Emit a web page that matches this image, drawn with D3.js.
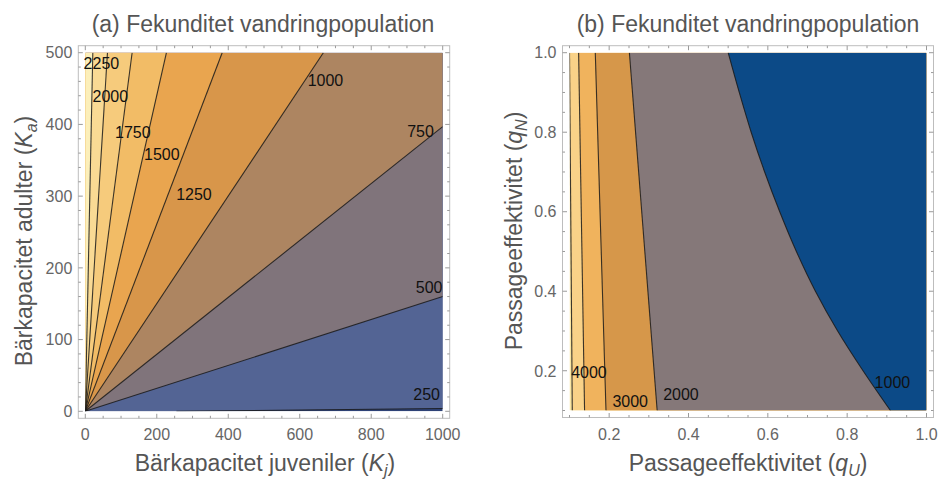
<!DOCTYPE html>
<html>
<head>
<meta charset="utf-8">
<script src="https://cdn.jsdelivr.net/npm/d3@7"></script>
<style>
  body { margin: 0; background: #fff; }
  text { font-family: "Liberation Sans", Arial, sans-serif; }
</style>
</head>
<body>
<svg id="chart" width="938" height="479"></svg>
<script>
// ---------- panel (a): Kj vs Ka ----------
const kjTicks = [0, 200, 400, 600, 800, 1000];
const kaTicks = [0, 100, 200, 300, 400, 500];
const levelsA = [250, 500, 750, 1000, 1250, 1500, 1750, 2000, 2250];
// contour lines, [Kj, Ka] points
const linesA = [
  [[255, 0], [1000, 4]],
  [[0, 0], [1000, 160]],
  [[0, 0], [1000, 397]],
  [[0, 0], [666, 500]],
  [[0, 0], [383, 500]],
  [[0, 0], [227, 500]],
  [[0, 0], [131, 500]],
  [[0, 0], [62, 500]],
  [[0, 0], [21, 500]]
];
// first colour is below the lowest contour
const fillsA = ['#2e4276', '#536494', '#80747b', '#ad8561', '#d8964a',
  '#e9a54f', '#f2bc66', '#f6cb7c', '#f9da94', '#fcefba'];
const labelsA = [[955, 24], [962, 173], [938, 391], [672, 461], [304, 302],
  [214, 358], [133, 389], [70, 439], [45, 486]];

// ---------- panel (b): qU vs qN ----------
const quTicks = [0.2, 0.4, 0.6, 0.8, 1.0];
const qnTicks = [0.2, 0.4, 0.6, 0.8, 1.0];
const levelsB = [5000, 4000, 3000, 2000, 1000];
// contour lines, [qU, qN] points from top to bottom
const linesB = [
  [[0.100, 1.0], [0.107, 0.1]],
  [[0.123, 1.0], [0.138, 0.1]],
  [[0.165, 1.0], [0.192, 0.1]],
  [[0.251, 1.0], [0.321, 0.1]],
  [[0.500, 1.0], [0.528, 0.9], [0.558, 0.8], [0.592, 0.7], [0.630, 0.6],
   [0.672, 0.5], [0.720, 0.4], [0.776, 0.3], [0.840, 0.2], [0.909, 0.1]]
];
const fillsB = ['#fae6a2', '#f9d288', '#f0b35d', '#d6974a', '#857879', '#0c4a87'];
const labelsB = [null, [0.149, 0.196], [0.253, 0.124], [0.381, 0.142], [0.914, 0.171]];

const svg = d3.select('#chart');

function drawPanel(p) {
  const x = d3.scaleLinear().domain(p.xDomain).range([p.left, p.right]);
  const y = d3.scaleLinear().domain(p.yDomain).range([p.bottom, p.top]);
  const g = svg.append('g');

  g.append('clipPath').attr('id', 'clip-' + p.id)
    .append('rect')
    .attr('x', p.left).attr('y', p.top)
    .attr('width', p.right - p.left).attr('height', p.bottom - p.top);

  const plot = g.append('g').attr('clip-path', `url(#clip-${p.id})`);

  plot.append('rect')
    .attr('x', p.left).attr('y', p.top)
    .attr('width', p.right - p.left).attr('height', p.bottom - p.top)
    .attr('fill', p.fills[0]);

  const line = d3.line()
    .x(d => x(d[0]))
    .y(d => y(d[1]))
    .curve(d3.curveCatmullRom);

  // painter's order: each region covers everything on its side of the contour
  p.lines.forEach((pts, i) => {
    const extra = p.closeRegion(pts);
    const d = line(pts) + extra.map(c => `L${x(c[0])},${y(c[1])}`).join('') + 'Z';
    plot.append('path').attr('d', d).attr('fill', p.fills[i + 1]);
  });

  p.lines.forEach(pts => {
    plot.append('path')
      .attr('d', line(pts))
      .attr('fill', 'none')
      .attr('stroke', '#1a1a1a')
      .attr('stroke-opacity', 0.85)
      .attr('stroke-width', 1.1);
  });

  // contour labels
  p.labels.forEach((pos, i) => {
    if (!pos) return;
    g.append('text')
      .attr('x', x(pos[0]))
      .attr('y', y(pos[1]))
      .attr('dy', '0.36em')
      .attr('text-anchor', 'middle')
      .attr('font-size', 16)
      .attr('fill', '#111')
      .text(p.levels[i]);
  });

  // frame
  const pad = 7;
  const fl = p.left - pad, fr = p.right + pad, ft = p.top - pad, fb = p.bottom + pad;
  g.append('rect')
    .attr('x', fl).attr('y', ft)
    .attr('width', fr - fl).attr('height', fb - ft)
    .attr('fill', 'none')
    .attr('stroke', '#bdbdbd')
    .attr('stroke-width', 1);

  const tickColor = '#9a9a9a';
  const xt = g.append('g');
  p.xMinor.forEach(v => {
    const len = p.xTicks.some(t => Math.abs(t - v) < 1e-9) ? 4.5 : 2.5;
    xt.append('line').attr('x1', x(v)).attr('x2', x(v)).attr('y1', fb).attr('y2', fb - len)
      .attr('stroke', tickColor);
    xt.append('line').attr('x1', x(v)).attr('x2', x(v)).attr('y1', ft).attr('y2', ft + len)
      .attr('stroke', tickColor);
  });
  p.yMinor.forEach(v => {
    const len = p.yTicks.some(t => Math.abs(t - v) < 1e-9) ? 4.5 : 2.5;
    xt.append('line').attr('y1', y(v)).attr('y2', y(v)).attr('x1', fl).attr('x2', fl + len)
      .attr('stroke', tickColor);
    xt.append('line').attr('y1', y(v)).attr('y2', y(v)).attr('x1', fr).attr('x2', fr - len)
      .attr('stroke', tickColor);
  });

  p.xTicks.forEach(v => {
    g.append('text')
      .attr('x', x(v)).attr('y', fb + 22)
      .attr('text-anchor', 'middle')
      .attr('font-size', 16)
      .attr('fill', '#666')
      .text(p.fmt(v));
  });
  p.yTicks.forEach(v => {
    g.append('text')
      .attr('x', fl - 6).attr('y', y(v))
      .attr('dy', '0.36em')
      .attr('text-anchor', 'end')
      .attr('font-size', 16)
      .attr('fill', '#666')
      .text(p.fmt(v));
  });

  // title
  g.append('text')
    .attr('x', p.titleX).attr('y', 32)
    .attr('text-anchor', 'middle')
    .attr('font-size', 23)
    .attr('fill', '#555')
    .text(p.title);

  // axis labels
  const xl = g.append('text')
    .attr('x', p.xLabelX).attr('y', 471)
    .attr('text-anchor', 'middle')
    .attr('font-size', 23)
    .attr('fill', '#555');
  addLabel(xl, p.xLabel);

  const yl = g.append('text')
    .attr('transform', `translate(${p.yLabelX},${p.yLabelY}) rotate(-90)`)
    .attr('text-anchor', 'middle')
    .attr('font-size', 23)
    .attr('fill', '#555');
  addLabel(yl, p.yLabel);
}

function addLabel(t, parts) {
  t.append('tspan').text(parts[0] + ' (');
  t.append('tspan').attr('font-style', 'italic').text(parts[1]);
  t.append('tspan').attr('font-style', 'italic').attr('font-size', 16).attr('dy', 5).text(parts[2]);
  t.append('tspan').attr('dy', -5).text(')');
}

drawPanel({
  id: 'a',
  xDomain: [0, 1000], yDomain: [0, 500],
  left: 85.3, right: 442.7, top: 52.7, bottom: 411.3,
  levels: levelsA, lines: linesA, fills: fillsA, labels: labelsA,
  closeRegion: pts => {
    const last = pts[pts.length - 1];
    return last[0] >= 1000 ? [[1000, 500], [0, 500], [0, 0]] : [[0, 500], [0, 0]];
  },
  xTicks: kjTicks, yTicks: kaTicks,
  xMinor: d3.range(0, 1001, 50), yMinor: d3.range(0, 501, 20),
  fmt: d3.format('d'),
  title: '(a) Fekunditet vandringpopulation', titleX: 263,
  xLabel: ['Bärkapacitet juveniler', 'K', 'j'], xLabelX: 265,
  yLabel: ['Bärkapacitet adulter', 'K', 'a'], yLabelX: 32, yLabelY: 241
});

drawPanel({
  id: 'b',
  xDomain: [0.1, 1.0], yDomain: [0.1, 1.0],
  left: 569.5, right: 926.5, top: 52.7, bottom: 410.5,
  levels: levelsB, lines: linesB, fills: fillsB, labels: labelsB,
  closeRegion: () => [[1.0, 0.1], [1.0, 1.0]],
  xTicks: quTicks, yTicks: qnTicks,
  xMinor: d3.range(0.1, 1.0001, 0.05).map(v => +v.toFixed(2)),
  yMinor: d3.range(0.1, 1.0001, 0.05).map(v => +v.toFixed(2)),
  fmt: d3.format('.1f'),
  title: '(b) Fekunditet vandringpopulation', titleX: 748,
  xLabel: ['Passageeffektivitet', 'q', 'U'], xLabelX: 748,
  yLabel: ['Passageeffektivitet', 'q', 'N'], yLabelX: 522, yLabelY: 231
});
</script>
</body>
</html>
